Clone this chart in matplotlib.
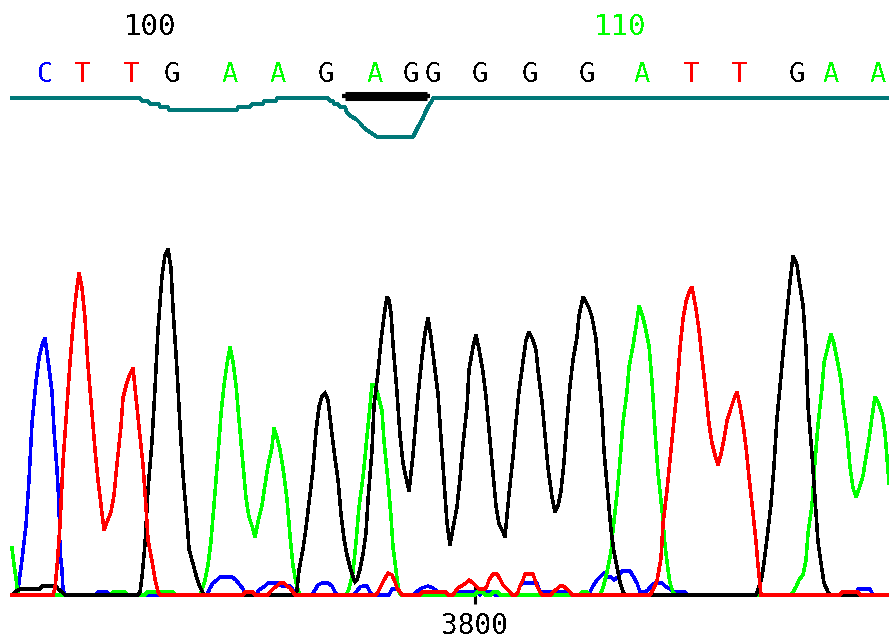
import matplotlib
matplotlib.use("Agg")
import matplotlib.pyplot as plt
from matplotlib.transforms import blended_transform_factory

# ---------------- data (scan number, signal) ----------------
blue_scan = [3337, 3341, 3343, 3344, 3347, 3351, 3354, 3357, 3361, 3364, 3367, 3370, 3373, 3377,
             3379, 3382, 3384, 3385, 3387, 3388, 3390, 3420, 3423, 3432, 3435, 3532, 3535, 3538,
             3542, 3545, 3557, 3561, 3565, 3568, 3571, 3581, 3584, 3587, 3590, 3593, 3603, 3607,
             3615, 3618, 3621, 3637, 3640, 3643, 3647, 3653, 3657, 3660, 3662, 3679, 3682, 3685,
             3688, 3692, 3695, 3697, 3714, 3717, 3723, 3726, 3738, 3741, 3747, 3753, 3758, 3763,
             3766, 3780, 3783, 3802, 3805, 3808, 3818, 3820, 3842, 3845, 3848, 3862, 3865, 3893,
             3895, 3913, 3915, 3918, 3922, 3925, 3929, 3933, 3936, 3939, 3943, 3947, 3955, 3958,
             3962, 3965, 3970, 3973, 3977, 3980, 3987, 3990, 3995, 3998, 4010, 4013, 4180, 4183,
             4195, 4198, 4214]
blue_val = [0, 0, 5, 13, 35, 70, 115, 172, 213, 237, 250, 257, 235, 203,
            165, 125, 90, 43, 25, 5, 0, 0, 3, 3, 0, 0, 7, 12,
            15, 18, 18, 15, 10, 6, 0, 0, 5, 7, 9, 12, 12, 9,
            9, 5, 0, 0, 5, 10, 12, 12, 9, 3, 0, 0, 4, 8,
            9, 9, 3, 0, 0, 6, 6, 0, 0, 3, 7, 9, 7, 3,
            0, 0, 3, 3, 0, 3, 3, 0, 0, 9, 12, 12, 3, 3,
            0, 0, 3, 9, 15, 18, 22, 18, 18, 15, 18, 24, 24, 19,
            12, 3, 3, 5, 10, 12, 12, 9, 6, 3, 3, 0, 0, 6,
            6, 0, 0]

green_scan = [3337, 3339, 3341, 3342, 3344, 3435, 3438, 3450, 3453, 3470, 3472, 3498, 3501,
              3525, 3527, 3530, 3533, 3536, 3539, 3543, 3546, 3549, 3552, 3555, 3558, 3561,
              3564, 3568, 3571, 3574, 3578, 3580, 3583, 3587, 3590, 3593, 3597, 3599, 3602,
              3605, 3608, 3612, 3615, 3618, 3621, 3623, 3625, 3671, 3674, 3678, 3681, 3684,
              3688, 3691, 3694, 3697, 3700, 3703, 3707, 3709, 3713, 3716, 3718, 3722, 3724,
              3726, 3800, 3802, 3808, 3810, 3816, 3818, 3823, 3825, 3905, 3907, 3912, 3914,
              3925, 3928, 3932, 3936, 3938, 3942, 3945, 3948, 3952, 3954, 3958, 3961, 3964,
              3967, 3970, 3974, 3977, 3980, 3983, 3987, 3990, 3993, 3995, 3998, 4000, 4116,
              4118, 4121, 4124, 4128, 4131, 4133, 4137, 4140, 4143, 4147, 4149, 4153, 4156,
              4159, 4162, 4166, 4168, 4172, 4175, 4178, 4181, 4184, 4188, 4191, 4194, 4197,
              4200, 4203, 4207, 4210, 4213, 4214]
green_val = [47, 30, 17, 7, 0, 0, 3, 3, 0, 0, 3, 3, 0,
             0, 5, 15, 30, 54, 90, 140, 181, 210, 231, 248, 233, 210,
             175, 130, 97, 78, 66, 58, 73, 90, 110, 129, 148, 167, 158,
             145, 127, 96, 59, 29, 13, 5, 0, 0, 6, 23, 53, 88,
             118, 148, 179, 210, 210, 200, 184, 154, 114, 78, 48, 17, 3,
             0, 0, 3, 3, 0, 0, 3, 3, 0, 0, 3, 3, 0,
             0, 7, 23, 43, 65, 101, 134, 173, 203, 228, 249, 268, 289,
             281, 269, 249, 214, 164, 122, 85, 50, 25, 12, 3, 0, 0,
             3, 8, 15, 20, 35, 62, 90, 134, 170, 207, 232, 249, 261,
             251, 236, 215, 192, 162, 128, 107, 98, 106, 119, 138, 156, 178,
             198, 193, 182, 162, 125, 112]

black_scan = [3337, 3340, 3345, 3365, 3367, 3381, 3383, 3387, 3390, 3463, 3465, 3467, 3470,
              3473, 3477, 3480, 3483, 3487, 3490, 3493, 3496, 3498, 3502, 3505, 3508, 3512,
              3514, 3518, 3521, 3524, 3528, 3530, 3621, 3622, 3624, 3628, 3631, 3634, 3638,
              3641, 3644, 3647, 3650, 3653, 3656, 3659, 3663, 3666, 3669, 3672, 3675, 3678,
              3680, 3682, 3685, 3688, 3691, 3693, 3697, 3699, 3703, 3706, 3709, 3712, 3714,
              3716, 3718, 3722, 3725, 3728, 3730, 3734, 3738, 3741, 3744, 3747, 3750, 3753,
              3756, 3759, 3763, 3766, 3769, 3772, 3775, 3778, 3782, 3785, 3788, 3792, 3794,
              3798, 3801, 3804, 3808, 3811, 3814, 3818, 3821, 3824, 3828, 3830, 3834, 3838,
              3841, 3844, 3848, 3851, 3854, 3858, 3861, 3863, 3867, 3870, 3873, 3877, 3880,
              3883, 3886, 3889, 3892, 3895, 3898, 3902, 3904, 3908, 3911, 3914, 3917, 3921,
              3924, 3927, 3929, 3933, 3936, 3939, 3942, 3945, 3948, 3950, 4081, 4083, 4087,
              4090, 4093, 4096, 4099, 4102, 4106, 4109, 4112, 4115, 4118, 4122, 4124, 4128,
              4131, 4133, 4137, 4140, 4143, 4147, 4149, 4153, 4155, 4214]
black_val = [0, 3, 6, 6, 9, 9, 6, 3, 0, 0, 3, 18, 51,
             105, 154, 207, 265, 319, 340, 346, 327, 286, 225, 170, 120, 74,
             46, 31, 20, 10, 2, 0, 0, 5, 25, 46, 67, 92, 126,
             164, 188, 199, 202, 195, 169, 144, 115, 81, 56, 40, 28, 18,
             13, 15, 26, 41, 62, 95, 145, 189, 223, 254, 279, 298, 295,
             282, 251, 202, 160, 132, 122, 104, 140, 177, 209, 238, 262, 277,
             258, 233, 201, 157, 115, 72, 50, 67, 88, 117, 151, 188, 225,
             248, 260, 246, 223, 198, 165, 121, 89, 71, 63, 58, 101, 138,
             173, 204, 233, 255, 263, 255, 245, 225, 193, 160, 127, 98, 83,
             89, 104, 133, 174, 209, 235, 258, 279, 298, 293, 287, 278, 256,
             219, 183, 144, 99, 65, 43, 28, 13, 3, 0, 0, 5, 18,
             40, 65, 91, 129, 177, 219, 253, 283, 313, 339, 330, 315, 290,
             247, 189, 140, 97, 53, 25, 12, 3, 0, 0]

red_scan = [3337, 3378, 3380, 3382, 3385, 3388, 3392, 3395, 3398, 3401, 3404, 3407, 3410,
            3413, 3417, 3420, 3423, 3426, 3429, 3432, 3436, 3439, 3442, 3446, 3448, 3452,
            3455, 3458, 3461, 3464, 3468, 3471, 3473, 3477, 3480, 3483, 3485, 3568, 3570,
            3578, 3580, 3593, 3595, 3599, 3602, 3605, 3609, 3612, 3615, 3618, 3620, 3701,
            3703, 3705, 3708, 3713, 3717, 3720, 3722, 3725, 3727, 3745, 3747, 3771, 3773,
            3778, 3780, 3783, 3788, 3791, 3794, 3798, 3801, 3804, 3810, 3812, 3814, 3818,
            3822, 3825, 3828, 3832, 3835, 3837, 3841, 3843, 3845, 3848, 3850, 3858, 3860,
            3862, 3865, 3867, 3876, 3878, 3882, 3885, 3888, 3892, 3895, 3897, 3975, 3978,
            3982, 3986, 3988, 3992, 3995, 3998, 4002, 4005, 4008, 4011, 4014, 4017, 4021,
            4024, 4027, 4031, 4034, 4037, 4040, 4043, 4046, 4049, 4052, 4056, 4059, 4062,
            4065, 4068, 4071, 4074, 4078, 4081, 4083, 4086, 4165, 4167, 4183, 4185, 4214]
red_val = [0, 0, 7, 28, 70, 133, 189, 232, 270, 300, 322, 307, 277,
           229, 182, 145, 115, 90, 65, 73, 83, 100, 131, 169, 197, 213,
           221, 227, 197, 168, 130, 88, 55, 34, 16, 3, 0, 0, 3,
           3, 0, 0, 3, 7, 9, 12, 12, 9, 7, 3, 0, 0,
           3, 7, 13, 22, 20, 13, 7, 3, 0, 0, 3, 3, 0,
           0, 3, 7, 10, 12, 15, 12, 9, 6, 6, 9, 15, 21,
           21, 16, 10, 6, 3, 0, 0, 3, 9, 15, 21, 21, 15,
           9, 3, 0, 0, 3, 6, 9, 9, 6, 3, 0, 0, 5,
           14, 37, 71, 105, 135, 166, 205, 247, 276, 293, 303, 308, 286,
           265, 237, 201, 171, 152, 140, 130, 141, 156, 174, 187, 196, 203,
           189, 171, 148, 118, 82, 53, 30, 0, 0, 3, 3, 0, 0]

# base calls and their peak scans
bases = list("CTTGAAGAGGGGGATTGAA")
base_scan = [3370, 3408, 3457, 3497, 3555, 3603, 3651, 3700, 3736, 3758, 3805, 3855, 3912,
             3967, 4017, 4065, 4122, 4156, 4203]
first_base_number = 97

# quality trace (drop below top line)
qual_scan = [3337, 3465, 3467, 3473, 3475, 3484, 3485, 3493, 3494, 3562, 3563, 3575, 3577,
             3588, 3589, 3601, 3602, 3653, 3655, 3658, 3659, 3663, 3665, 3670, 3672, 3677,
             3681, 3685, 3688, 3693, 3698, 3702, 3738, 3740, 3743, 3748, 3750, 3753, 3757,
             3758, 4214]
qual_drop = [0, 0, 3, 3, 6, 6, 9, 9, 12, 12, 9, 9, 6,
             6, 3, 3, 0, 0, 3, 3, 6, 6, 9, 9, 15, 19,
             21, 25, 29, 33, 36, 39, 39, 35, 29, 20, 15, 9, 3,
             0, 0]

# highlighted region (arrow bar)
highlight = (3670, 3752)

tick_scans = [3800]

# ---------------- drawing ----------------
plt.rcParams["text.antialiased"] = False
colors = {"A": "#00ff00", "C": "#0000ff", "G": "#000000", "T": "#ff0000"}
mono = "DejaVu Sans Mono"

W, H = 889, 639
fig = plt.figure(figsize=(W / 100, H / 100), dpi=100)
fig.patch.set_facecolor("white")

base_px = 595  # baseline pixel row from top
ax = fig.add_axes([0, (H - base_px) / H, 1, base_px / H])
ax.set_xlim(3325, 3325 + W)
ax.set_ylim(0, base_px)
for s in ax.spines.values():
    s.set_visible(False)
ax.set_yticks([])

lw = 1.8
for sc, vv, c in [(blue_scan, blue_val, colors["C"]),
                  (green_scan, green_val, colors["A"]),
                  (black_scan, black_val, colors["G"]),
                  (red_scan, red_val, colors["T"])]:
    ax.plot(sc, vv, color=c, lw=lw, clip_on=False, antialiased=False,
            solid_joinstyle="miter")

ax.set_xticks(tick_scans)
ax.set_xticklabels([str(t) for t in tick_scans], fontfamily=mono, fontsize=20)
ax.tick_params(axis="x", direction="inout", length=13, width=2.2, pad=6, color="black")

# quality axes (top)
axq = fig.add_axes([0, 1 - 150 / H, 1, 52 / H], sharex=ax)
axq.set_ylim(52, 0)
axq.axis("off")
axq.plot(qual_scan, qual_drop, color="#007878", lw=2.0, clip_on=False, antialiased=False)
axq.plot(list(highlight), [-2.5, -2.5], color="black", lw=6.5, solid_capstyle="butt",
         clip_on=False)
axq.plot([highlight[0] - 3, highlight[1] + 3], [-2.5, -2.5], color="black", lw=3,
         solid_capstyle="butt", clip_on=False)

# base letters and numbers
trans = blended_transform_factory(ax.transData, fig.transFigure)
for i, (b, s) in enumerate(zip(bases, base_scan)):
    ax.text(s, 1 - 82 / H, b, transform=trans, ha="center", va="baseline",
            color=colors[b], fontfamily=mono, fontsize=19.5, clip_on=False)
    num = first_base_number + i
    if num % 10 == 0:
        ax.annotate(str(num), xy=(s, 1 - 35 / H), xycoords=trans,
                    xytext=(-16, 0), textcoords="offset points", ha="center",
                    va="baseline", color=colors[b], fontfamily=mono, fontsize=21,
                    annotation_clip=False)

fig.savefig("out.png", dpi=100, facecolor="white")
